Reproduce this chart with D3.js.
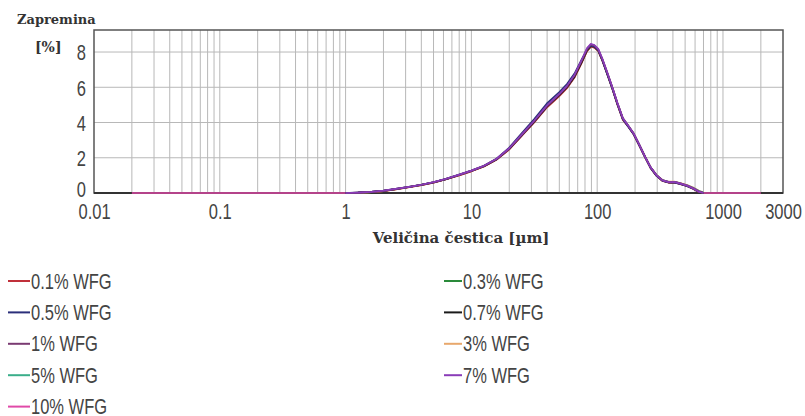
<!DOCTYPE html>
<html>
<head>
<meta charset="utf-8">
<script src="https://cdn.jsdelivr.net/npm/d3@7"></script>
<style>
  body { margin: 0; background: #fff; }
  svg { display: block; }
</style>
</head>
<body>
<svg id="chart" width="805" height="416"></svg>
<script>
// Particle size classes (µm)
const sizes = [0.02, 1.0, 1.26, 1.6, 2.0, 2.5, 3.2, 4.0, 5.0, 6.3, 8.0, 10, 12.6, 15.8, 20, 25, 31.6, 39.8, 50, 57.5,
  66, 75, 83, 89, 95, 102, 110, 120, 132, 145, 160, 176, 195, 215, 240, 265, 295, 330, 370, 415,
  465, 520, 580, 640, 700, 1000, 2000];

// Volume fraction (%) per size class, one array per WFG content
const vol_0_1 = [null,0,0.02,0.05,0.11,0.21,0.33,0.45,0.59,0.78,1.0,1.23,1.5,1.88,2.47,3.22,4.0,4.85,5.5,5.95,
  6.55,7.35,8.05,8.3,8.25,8.05,7.5,6.75,5.9,5.0,4.15,3.78,3.32,2.72,2.02,1.42,0.98,0.68,0.58,0.58,
  0.48,0.38,0.23,0.06,0,null,null];
const vol_0_3 = [null,0,0.01,0.05,0.12,0.22,0.35,0.47,0.61,0.8,1.03,1.26,1.53,1.92,2.52,3.27,4.07,4.92,5.57,6.02,
  6.62,7.42,8.08,8.3,8.26,8.08,7.56,6.82,5.97,5.08,4.23,3.82,3.37,2.77,2.07,1.47,1.02,0.72,0.62,0.61,
  0.52,0.41,0.27,0.1,0,null,null];
const vol_0_5 = [null,0,0.03,0.07,0.13,0.23,0.35,0.47,0.61,0.8,1.04,1.27,1.55,1.94,2.58,3.38,4.2,5.08,5.72,6.18,
  6.78,7.55,8.15,8.36,8.3,8.1,7.52,6.76,5.92,5.02,4.18,3.78,3.33,2.73,2.03,1.44,0.99,0.7,0.6,0.59,
  0.5,0.39,0.24,0.07,0,null,null];
const vol_0_7 = [null,0,0.02,0.06,0.12,0.22,0.34,0.46,0.6,0.79,1.02,1.25,1.52,1.9,2.5,3.25,4.05,4.9,5.55,6.0,
  6.6,7.4,8.1,8.35,8.3,8.1,7.55,6.8,5.95,5.05,4.2,3.8,3.35,2.75,2.05,1.45,1.0,0.7,0.6,0.6,
  0.5,0.4,0.25,0.08,0,null,null];
const vol_1 = [null,0,0.02,0.06,0.12,0.23,0.35,0.47,0.61,0.8,1.03,1.27,1.54,1.93,2.53,3.3,4.1,4.95,5.6,6.05,
  6.68,7.48,8.18,8.42,8.38,8.15,7.6,6.85,6.0,5.1,4.25,3.84,3.38,2.78,2.08,1.48,1.03,0.73,0.63,0.63,
  0.53,0.42,0.27,0.09,0,null,null];
const vol_3 = [null,0,0.01,0.05,0.11,0.21,0.33,0.45,0.59,0.78,1.01,1.24,1.51,1.89,2.49,3.24,4.03,4.88,5.53,5.98,
  6.58,7.38,8.06,8.3,8.26,8.07,7.53,6.78,5.93,5.04,4.2,3.8,3.36,2.76,2.07,1.48,1.03,0.74,0.64,0.64,
  0.55,0.45,0.31,0.14,0.03,null,null];
const vol_5 = [null,0,0.02,0.06,0.12,0.22,0.34,0.46,0.6,0.79,1.02,1.25,1.52,1.9,2.5,3.25,4.04,4.89,5.54,5.99,
  6.6,7.4,8.08,8.32,8.28,8.08,7.54,6.79,5.94,5.05,4.21,3.81,3.36,2.76,2.06,1.47,1.02,0.73,0.63,0.63,
  0.54,0.44,0.3,0.13,0.02,null,null];
const vol_7 = [null,0,0.02,0.06,0.13,0.23,0.35,0.47,0.62,0.81,1.04,1.27,1.55,1.93,2.54,3.3,4.1,4.96,5.62,6.08,
  6.7,7.52,8.22,8.46,8.4,8.18,7.62,6.86,6.0,5.1,4.24,3.83,3.38,2.78,2.07,1.47,1.02,0.72,0.62,0.62,
  0.52,0.41,0.26,0.08,0,null,null];
const vol_10 = [0,0,0.02,0.06,0.12,0.22,0.34,0.46,0.6,0.79,1.02,1.25,1.52,1.91,2.51,3.26,4.06,4.91,5.56,6.02,
  6.63,7.44,8.14,8.4,8.34,8.12,7.57,6.82,5.97,5.07,4.22,3.82,3.37,2.77,2.07,1.47,1.02,0.72,0.62,0.62,
  0.53,0.43,0.28,0.1,0,0,0];

const seriesLabels = ["0.1% WFG", "0.3% WFG", "0.5% WFG", "0.7% WFG", "1% WFG", "3% WFG", "5% WFG", "7% WFG", "10% WFG"];
const seriesValues = [vol_0_1, vol_0_3, vol_0_5, vol_0_7, vol_1, vol_3, vol_5, vol_7, vol_10];
const seriesColors = ["#c0303a", "#2a8a3a", "#2b2f7a", "#1a1a1a", "#7a3a72", "#e8a86c", "#3aae8a", "#8a3cb8", "#e04aa8"];
// paint order: lighter series underneath, purple on top
const drawOrder = [5, 6, 1, 0, 8, 3, 2, 4, 7];

const xTickValues = [0.01, 0.1, 1, 10, 100, 1000, 3000];
const xTickLabels = ["0.01", "0.1", "1", "10", "100", "1000", "3000"];
const yTickValues = [0, 2, 4, 6, 8];
const xAxisTitle = "Veličina čestica [µm]";
const yAxisTitleLines = ["Zapremina", "[%]"];

const svg = d3.select("#chart");
const plot = { left: 94, right: 783, top: 30, bottom: 193 };

const x = d3.scaleLog().domain([0.01, 3000]).range([plot.left, plot.right]);
const y = d3.scaleLinear().domain([0, 9.25]).range([plot.bottom, plot.top]);

const sansFont = "'Liberation Sans', Arial, sans-serif";
const serifFont = "'DejaVu Serif', serif";
const textColor = "#444";

// log grid: 1..9 in every decade
const gridX = [];
for (let k = -2; k <= 3; k++) {
  for (let m = 1; m <= 9; m++) {
    const v = m * Math.pow(10, k);
    if (v > 0.01 && v < 3000) gridX.push(v);
  }
}
svg.append("g").selectAll("line").data(gridX).join("line")
  .attr("x1", d => x(d)).attr("x2", d => x(d))
  .attr("y1", plot.top).attr("y2", plot.bottom)
  .attr("stroke", "#b8b8b8").attr("stroke-width", 1);

svg.append("g").selectAll("line").data(yTickValues.filter(v => v > 0)).join("line")
  .attr("x1", plot.left).attr("x2", plot.right)
  .attr("y1", d => y(d)).attr("y2", d => y(d))
  .attr("stroke", "#b8b8b8").attr("stroke-width", 1);

// frame
svg.append("rect")
  .attr("x", plot.left).attr("y", plot.top)
  .attr("width", plot.right - plot.left).attr("height", plot.bottom - plot.top)
  .attr("fill", "none").attr("stroke", "#555").attr("stroke-width", 1.5);
svg.append("line")
  .attr("x1", plot.left).attr("x2", plot.right)
  .attr("y1", plot.bottom).attr("y2", plot.bottom)
  .attr("stroke", "#333").attr("stroke-width", 2);

// axes (labels only)
const xAxis = d3.axisBottom(x).tickValues(xTickValues)
  .tickFormat((d, i) => xTickLabels[i]).tickSize(0);
const gx = svg.append("g").attr("transform", `translate(0,${plot.bottom})`).call(xAxis);
gx.select(".domain").remove();
gx.selectAll("text")
  .attr("y", 0).attr("dy", "0.35em")
  .attr("transform", "translate(0,18) scale(1,1.35)")
  .attr("font-family", sansFont).attr("font-size", 16.5).attr("fill", textColor);

const yAxis = d3.axisLeft(y).tickValues(yTickValues).tickSize(0).tickPadding(8);
const gy = svg.append("g").attr("transform", `translate(${plot.left},0)`).call(yAxis);
gy.select(".domain").remove();
gy.selectAll("text")
  .attr("x", 0).attr("dy", "0.35em")
  .attr("transform", d => `translate(-8,${d === 0 ? -4 : 0}) scale(1,1.35)`)
  .attr("font-family", sansFont).attr("font-size", 16.5).attr("fill", textColor);

// axis titles
svg.append("text").attr("x", 17).attr("y", 24)
  .attr("font-family", serifFont).attr("font-weight", "bold").attr("font-size", 13)
  .attr("fill", "#333").text(yAxisTitleLines[0]);
svg.append("text").attr("x", 35).attr("y", 52)
  .attr("font-family", serifFont).attr("font-weight", "bold").attr("font-size", 14)
  .attr("fill", "#333").text(yAxisTitleLines[1]);
svg.append("text").attr("x", 461).attr("y", 243).attr("text-anchor", "middle")
  .attr("font-family", serifFont).attr("font-weight", "bold").attr("font-size", 15)
  .attr("fill", "#333").text(xAxisTitle);

// distribution curves
const line = d3.line()
  .defined(d => d[1] !== null)
  .x(d => x(d[0])).y(d => y(d[1]));
const curves = svg.append("g").attr("fill", "none").attr("stroke-linejoin", "round");
drawOrder.forEach(i => {
  const pts = sizes.map((s, j) => [s, seriesValues[i][j]]);
  curves.append("path")
    .attr("d", line(pts))
    .attr("stroke", seriesColors[i])
    .attr("stroke-width", 1.7);
});

// legend: two columns, filled row by row
const legendCols = [{ lineX: 8, textX: 31 }, { lineX: 444, textX: 463 }];
const legendTop = 281, legendStep = 31.4;
const legend = svg.append("g");
seriesLabels.forEach((label, i) => {
  const col = legendCols[i % 2];
  const row = Math.floor(i / 2);
  const cy = legendTop + row * legendStep;
  legend.append("line")
    .attr("x1", col.lineX).attr("x2", col.textX - 1)
    .attr("y1", cy).attr("y2", cy)
    .attr("stroke", seriesColors[i]).attr("stroke-width", 2);
  legend.append("text")
    .attr("transform", `translate(${col.textX},${cy}) scale(1,1.3)`)
    .attr("dy", "0.35em")
    .attr("font-family", sansFont).attr("font-size", 16.5).attr("fill", textColor)
    .text(label);
});
</script>
</body>
</html>
